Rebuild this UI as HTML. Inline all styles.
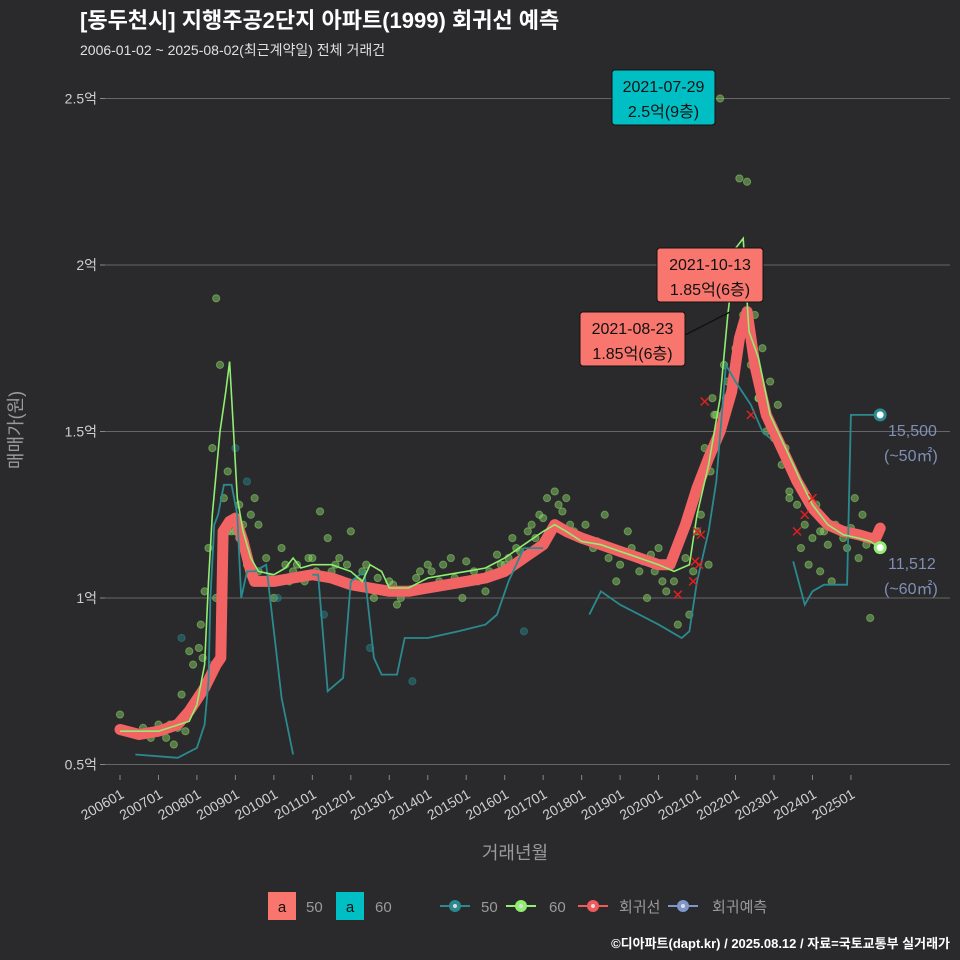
<!DOCTYPE html>
<html><head><meta charset="utf-8">
<style>
body{margin:0;background:#2a2a2c;}
svg{display:block;font-family:"Liberation Sans","Noto Sans CJK KR",sans-serif;}
</style></head>
<body>
<svg id="chart" width="960" height="960" viewBox="0 0 960 960">
<rect width="960" height="960" fill="#2a2a2c"/>
<text x="80" y="28" fill="#ffffff" font-size="22" font-weight="bold">[동두천시] 지행주공2단지 아파트(1999) 회귀선 예측</text>
<text x="80" y="55" fill="#e0e0e0" font-size="14">2006-01-02 ~ 2025-08-02(최근계약일) 전체 거래건</text>
<g id="grid"></g>
<g id="pts"></g>
<g id="lines"></g>
<g id="anno"></g>
<text transform="translate(22,430) rotate(-90)" text-anchor="middle" fill="#9a9a9a" font-size="18">매매가(원)</text>
<text x="515" y="859" text-anchor="middle" fill="#9a9a9a" font-size="18">거래년월</text>
<g>
<rect x="268" y="892" width="28" height="28" fill="#f8766d"/>
<text x="282" y="912" text-anchor="middle" font-size="15" fill="#111">a</text>
<text x="306" y="912" font-size="15" fill="#9a9a9a">50</text>
<rect x="336" y="892" width="28" height="28" fill="#00bfc4"/>
<text x="350" y="912" text-anchor="middle" font-size="15" fill="#111">a</text>
<text x="375" y="912" font-size="15" fill="#9a9a9a">60</text>
<g><line x1="440" y1="906" x2="470" y2="906" stroke="#2a8a8f" stroke-width="2"/><circle cx="455" cy="906" r="6" fill="#2a8a8f"/><circle cx="455" cy="906" r="2" fill="#ddd"/><text x="481" y="912" font-size="15" fill="#9a9a9a">50</text></g>
<g><line x1="506" y1="906" x2="536" y2="906" stroke="#90ee70" stroke-width="2"/><circle cx="521" cy="906" r="6" fill="#90ee70"/><circle cx="521" cy="906" r="2" fill="#ddd"/><text x="549" y="912" font-size="15" fill="#9a9a9a">60</text></g>
<g><line x1="578" y1="906" x2="608" y2="906" stroke="#f05a5a" stroke-width="2"/><circle cx="593" cy="906" r="6" fill="#f05a5a"/><circle cx="593" cy="906" r="2" fill="#ddd"/><text x="619" y="912" font-size="15" fill="#9a9a9a">회귀선</text></g>
<g><line x1="668" y1="906" x2="698" y2="906" stroke="#7f96c8" stroke-width="2"/><circle cx="683" cy="906" r="6" fill="#7f96c8"/><circle cx="683" cy="906" r="2" fill="#ddd"/><text x="712" y="912" font-size="15" fill="#9a9a9a">회귀예측</text></g>
</g>
<text x="950" y="948" text-anchor="end" fill="#ffffff" font-size="13" font-weight="bold">©디아파트(dapt.kr) / 2025.08.12 / 자료=국토교통부 실거래가</text>
</svg>
<script>
const yTicks=[0.5,1,1.5,2,2.5];
const yTickLabels=["0.5억","1억","1.5억","2억","2.5억"];
const xTickYears=[2006,2007,2008,2009,2010,2011,2012,2013,2014,2015,2016,2017,2018,2019,2020,2021,2022,2023,2024,2025];
const xTickLabels=["200601","200701","200801","200901","201001","201101","201201","201301","201401","201501","201601","201701","201801","201901","202001","202101","202201","202301","202401","202501"];
const regT=[2006.0,2006.5,2007.0,2007.5,2007.8,2008.2,2008.5,2008.62,2008.68,2008.85,2009.0,2009.2,2009.4,2009.5,2010,2010.5,2011,2011.5,2012,2012.5,2013,2013.5,2014,2014.5,2015,2015.5,2016,2016.5,2017,2017.3,2017.6,2018,2018.5,2019,2019.5,2020,2020.3,2020.7,2021.0,2021.3,2021.6,2021.9,2022.1,2022.3,2022.5,2022.8,2023.2,2023.6,2024.0,2024.4,2024.8,2025.2,2025.5,2025.65,2025.76];
const regV=[0.605,0.59,0.60,0.62,0.66,0.73,0.80,0.82,1.20,1.23,1.24,1.17,1.08,1.05,1.05,1.06,1.07,1.06,1.04,1.03,1.02,1.02,1.03,1.04,1.05,1.06,1.08,1.12,1.16,1.22,1.20,1.18,1.16,1.14,1.12,1.10,1.10,1.22,1.33,1.42,1.50,1.62,1.78,1.86,1.70,1.55,1.45,1.35,1.27,1.22,1.20,1.19,1.18,1.18,1.21];
const g60T=[2006.0,2007,2007.8,2008.0,2008.2,2008.3,2008.4,2008.6,2008.75,2008.85,2009.05,2009.2,2009.4,2009.6,2010,2010.3,2010.5,2010.7,2011,2011.5,2012,2012.3,2012.5,2012.8,2013,2013.5,2014,2014.5,2015,2015.5,2016,2016.5,2017,2017.3,2017.6,2018,2018.5,2019,2019.5,2020,2020.4,2020.8,2021.0,2021.3,2021.6,2021.8,2022.0,2022.2,2022.35,2022.6,2022.9,2023.3,2023.7,2024.0,2024.4,2024.8,2025.2,2025.5,2025.76];
const g60V=[0.60,0.60,0.63,0.68,0.80,1.05,1.25,1.50,1.62,1.71,1.30,1.20,1.12,1.08,1.07,1.09,1.12,1.09,1.10,1.10,1.08,1.05,1.10,1.08,1.03,1.03,1.06,1.07,1.08,1.09,1.12,1.16,1.20,1.22,1.20,1.17,1.16,1.14,1.12,1.10,1.08,1.10,1.25,1.40,1.60,1.85,2.05,2.08,1.80,1.72,1.55,1.45,1.35,1.28,1.22,1.19,1.18,1.17,1.15];
const t50T=[2006.4,2007.5,2008.0,2008.2,2008.3,2008.35,2008.45,2008.55,2008.7,2008.9,2009.05,2009.15,2009.3,2009.5,2009.8,2010.0,2010.2,2010.5,null,2011.0,2011.15,2011.4,2011.8,2012.0,2012.35,2012.6,2012.8,2013.2,2013.4,2014.0,2014.8,2015.5,2015.8,2016.1,2016.5,2017.0,null,2018.2,2018.5,2019.0,2019.5,2020.0,2020.6,2020.8,2021.0,2021.3,2021.5,2021.75,2022.0,2022.4,2022.7,2022.9,null,2023.5,2023.8,2024.0,2024.3,2024.9,2025.0,2025.55,2025.76];
const t50V=[0.53,0.52,0.55,0.62,0.75,1.00,1.22,1.25,1.34,1.34,1.25,1.00,1.08,1.08,1.10,0.90,0.70,0.53,null,1.07,1.07,0.72,0.76,1.05,1.08,0.82,0.77,0.77,0.88,0.88,0.90,0.92,0.95,1.05,1.15,1.15,null,0.95,1.02,0.98,0.95,0.92,0.88,0.90,1.05,1.20,1.35,1.70,1.65,1.58,1.50,1.48,null,1.11,0.98,1.02,1.04,1.04,1.55,1.55,1.55];
const ptT=[2006.0,2006.3,2006.6,2007.0,2007.2,2007.4,2007.6,2007.8,2007.9,2008.1,2008.2,2008.3,2008.4,2008.5,2008.6,2008.7,2008.8,2008.9,2009.0,2009.1,2009.2,2009.3,2009.4,2009.5,2009.6,2009.8,2010.0,2010.2,2010.4,2010.6,2010.8,2011.0,2011.2,2011.4,2011.6,2011.8,2012.0,2012.2,2012.4,2012.6,2012.8,2013.0,2013.2,2013.5,2013.8,2014.0,2014.3,2014.6,2014.9,2015.2,2015.5,2015.8,2016.0,2016.3,2016.6,2016.9,2017.1,2017.4,2017.7,2018.0,2018.3,2018.6,2018.9,2019.2,2019.5,2019.8,2020.0,2020.2,2020.4,2020.6,2020.8,2021.0,2021.2,2021.4,2021.5,2021.7,2021.9,2022.1,2022.3,2022.5,2022.7,2022.9,2023.1,2023.3,2023.5,2023.7,2023.9,2024.1,2024.3,2024.5,2024.7,2024.9,2025.1,2025.3,2025.5,2007.6,2008.4,2009.0,2009.3,2010.1,2011.3,2012.5,2013.6,2016.5,2019.7,2020.5,2021.3,2021.8,2022.6,2023.4,2024.2,2025.2];
const ptV=[0.65,0.60,0.61,0.62,0.58,0.56,0.71,0.84,0.80,0.92,1.02,1.15,1.45,1.90,1.70,1.30,1.20,1.20,1.20,1.28,1.22,1.10,1.25,1.30,1.22,1.12,1.00,1.15,1.05,1.10,1.05,1.12,1.26,1.18,1.10,1.05,1.20,1.05,1.10,1.00,1.02,1.05,0.98,1.02,1.08,1.10,1.05,1.12,1.00,1.08,1.02,1.13,1.10,1.15,1.20,1.25,1.30,1.28,1.22,1.18,1.15,1.25,1.05,1.20,1.08,1.13,1.15,1.02,1.05,1.18,0.95,1.20,1.45,1.60,1.55,1.70,2.00,2.26,2.25,1.85,1.75,1.65,1.58,1.45,1.38,1.15,1.10,1.28,1.20,1.05,1.20,1.15,1.30,1.25,0.94,0.88,0.80,1.45,1.35,1.00,0.95,0.85,0.75,0.90,1.00,0.92,1.10,1.65,1.60,1.30,1.08,1.12];
const pt2T=[2006.2,2006.5,2006.8,2007.1,2007.3,2007.5,2007.7,2008.05,2008.15,2008.5,2008.8,2009.1,2009.35,2009.6,2009.9,2010.3,2010.5,2010.7,2010.9,2011.1,2011.5,2011.7,2011.9,2012.1,2012.3,2012.7,2012.9,2013.1,2013.3,2013.7,2013.9,2014.1,2014.4,2014.7,2015.0,2015.3,2015.6,2015.9,2016.1,2016.2,2016.4,2016.7,2016.8,2017.0,2017.2,2017.3,2017.5,2017.6,2017.8,2018.1,2018.4,2018.7,2019.0,2019.3,2019.6,2019.9,2020.1,2020.3,2020.7,2020.9,2021.1,2021.35,2021.45,2021.6,2021.75,2022.0,2022.2,2022.4,2022.6,2022.8,2023.0,2023.2,2023.4,2023.6,2023.8,2024.0,2024.2,2024.4,2024.6,2024.8,2025.0,2025.4,2021.6];
const pt2V=[0.60,0.59,0.58,0.60,0.62,0.61,0.60,0.85,0.82,1.00,1.38,1.18,1.12,1.08,1.06,1.10,1.08,1.06,1.12,1.08,1.08,1.12,1.10,1.04,1.08,1.06,1.02,1.04,1.00,1.06,1.03,1.08,1.10,1.06,1.11,1.05,1.08,1.10,1.12,1.18,1.14,1.22,1.18,1.24,1.20,1.32,1.26,1.30,1.20,1.22,1.17,1.12,1.10,1.15,1.11,1.08,1.05,1.10,1.12,1.08,1.25,1.38,1.55,1.50,1.60,1.75,1.85,1.70,1.60,1.50,1.48,1.40,1.32,1.28,1.22,1.18,1.20,1.16,1.22,1.18,1.21,1.16,2.50];
const xT=[2020.5,2020.9,2020.95,2021.0,2021.05,2021.1,2021.2,2022.4,2023.6,2023.8,2024.0];
const xV=[1.01,1.05,1.11,1.20,1.10,1.19,1.59,1.55,1.20,1.25,1.30];

const NS="http://www.w3.org/2000/svg";
const X0=120,PX=38.47,Y1=598,PY=333,L=105,R=950;
function xs(t){return X0+(t-2006)*PX;}
function ys(v){return Y1-(v-1)*PY;}
function el(tag,attrs,parent){const e=document.createElementNS(NS,tag);for(const k in attrs)e.setAttribute(k,attrs[k]);parent.appendChild(e);return e;}
const grid=document.getElementById('grid');
yTicks.forEach((v,i)=>{
  const ln=el('line',{x1:L,x2:R,y1:ys(v),y2:ys(v),stroke:'#666',"stroke-width":1},grid);
  
  
  el('line',{x1:L-5,x2:L,y1:ys(v),y2:ys(v),stroke:'#888'},grid);
  const tx=el('text',{x:L-8,y:ys(v)+5,"text-anchor":"end",fill:'#cfcfcf',"font-size":14},grid);
  tx.textContent=yTickLabels[i];
  
  
});
xTickYears.forEach((t,i)=>{
  const x=xs(t);
  el('line',{x1:x,x2:x,y1:775,y2:780,stroke:'#888'},grid);
  const tx=el('text',{transform:`translate(${x+5},${797}) rotate(-30)`,"text-anchor":"end",fill:'#cfcfcf',"font-size":14},grid);
  tx.textContent=xTickLabels[i];
  
  
});
const pts=document.getElementById('pts');
function dot(t,v,teal){
  const c=el('circle',{cx:xs(t),cy:ys(v),r:3.6,fill:teal?'#2a8a8f':'#8fdc6a',"fill-opacity":0.45,stroke:teal?'#2a8a8f':'#8fdc6a',"stroke-opacity":0.5},pts);
  
  
}
ptT.forEach((t,i)=>dot(t,ptV[i],i>=95&&i<104));
pt2T.forEach((t,i)=>dot(t,pt2V[i],false));
function path(T,V){let d='',pen=false;for(let i=0;i<T.length;i++){if(T[i]===null){pen=false;continue;}d+=(pen?'L':'M')+xs(T[i]).toFixed(1)+','+ys(V[i]).toFixed(1);pen=true;}return d;}
const lines=document.getElementById('lines');
const rl=el('path',{d:path(regT,regV),fill:'none',stroke:'#f26464',"stroke-width":11,"stroke-linejoin":"round","stroke-linecap":"round"},lines);


const tl=el('path',{d:path(t50T,t50V),fill:'none',stroke:'#2a8a8f',"stroke-width":1.8},lines);


const gl=el('path',{d:path(g60T,g60V),fill:'none',stroke:'#90ee70',"stroke-width":1.6},lines);


xT.forEach((t,i)=>{
  const x=xs(t),y=ys(xV[i]);
  const m=el('path',{d:`M${x-4},${y-4}L${x+4},${y+4}M${x-4},${y+4}L${x+4},${y-4}`,stroke:'#e02020',"stroke-width":1.5},lines);
  
  
});
const an=document.getElementById('anno');
const lastT=2025.76;
const e50=el('circle',{cx:xs(lastT),cy:ys(1.55),r:5,fill:'#fff',stroke:'#2a8a8f',"stroke-width":3},an);


const e60=el('circle',{cx:xs(lastT),cy:ys(1.1512),r:5,fill:'#fff',stroke:'#90ee70',"stroke-width":3},an);


function lbl(x,y,s,name){const t=el('text',{x:x,y:y,fill:'#7f8fb5',"font-size":16},an);t.textContent=s;}
lbl(888,436,'15,500','label-50-price');lbl(884,461,'(~50㎡)','label-50-area');
lbl(888,569,'11,512','label-60-price');lbl(884,594,'(~60㎡)','label-60-area');
el('line',{x1:685,y1:335,x2:730,y2:312,stroke:'#111',"stroke-width":1.5},an);
function box(x,y,w,h,fill,l1,l2,name){
  const g=el('g',{},an);
  
  
  el('rect',{x:x,y:y,width:w,height:h,rx:3,fill:fill,stroke:'#111'},g);
  const a=el('text',{x:x+w/2,y:y+22,"text-anchor":"middle","font-size":16,fill:'#111'},g);a.textContent=l1;
  const b=el('text',{x:x+w/2,y:y+47,"text-anchor":"middle","font-size":16,fill:'#111'},g);b.textContent=l2;
}
box(612,70,103,55,'#00bfc4','2021-07-29','2.5억(9층)','max-price-annotation');
box(657,248,106,54,'#f8766d','2021-10-13','1.85억(6층)','annotation-2021-10-13');
box(580,312,105,54,'#f8766d','2021-08-23','1.85억(6층)','annotation-2021-08-23');
</script>
</body></html>
